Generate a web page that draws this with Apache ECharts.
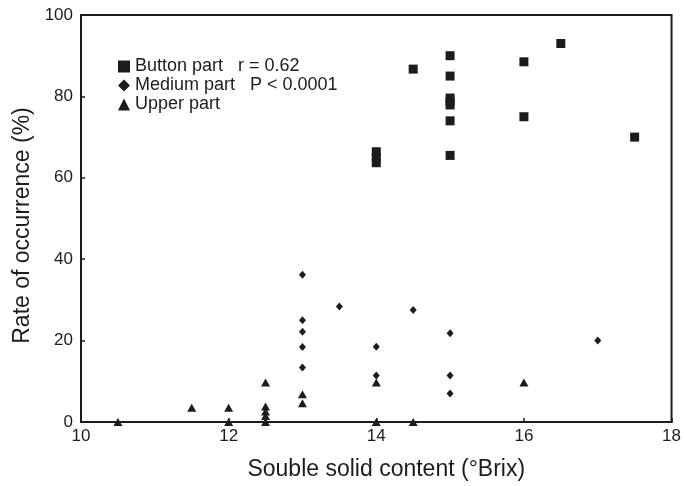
<!DOCTYPE html>
<html>
<head>
<meta charset="utf-8">
<script src="https://cdn.jsdelivr.net/npm/echarts@6/dist/echarts.min.js"></script>
<style>
  html, body { margin: 0; padding: 0; background: #fff; }
  #main { width: 684px; height: 486px; }
</style>
</head>
<body>
<div id="main"></div>
<script>
// bottom part (squares)
var buttonX = [14, 14, 14, 14.5, 15, 15, 15, 15, 15, 15, 15, 16, 16, 16.5, 17.5];
var buttonY = [66.4, 65, 63.7, 86.7, 90, 85, 79.6, 78.7, 77.9, 74, 65.5, 88.5, 75, 93, 70];
// medium part (diamonds)
var mediumX = [13, 13, 13, 13, 13, 13.5, 14, 14, 14.5, 15, 15, 15, 17];
var mediumY = [36.2, 25, 22.2, 18.4, 13.4, 28.4, 18.5, 11.4, 27.5, 21.8, 11.4, 7, 20];
// upper part (triangles)
var upperX = [10.5, 11.5, 12, 12, 12.5, 12.5, 12.5, 12.5, 12.5, 13, 13, 14, 14, 14.5, 16];
var upperY = [0, 3.5, 3.5, 0, 9.7, 3.8, 2.6, 1.5, 0, 6.8, 4.6, 9.7, 0, 0, 9.7];

var seriesNames = ['Button part', 'Medium part', 'Upper part'];
var legendExtra = {'Button part': '   r = 0.62', 'Medium part': '   P < 0.0001', 'Upper part': ''};

function pairs(xs, ys){
  var out = [];
  for (var i = 0; i < xs.length; i++) out.push([xs[i], ys[i]]);
  return out;
}

var font = "'Liberation Sans', Arial, sans-serif";
var ink = '#1c1c1c';

var chart = echarts.init(document.getElementById('main'));
chart.setOption({
  animation: false,
  grid: {
    left: 81, right: 9, top: 15, bottom: 57,
    show: true,
    borderColor: ink,
    borderWidth: 2
  },
  legend: {
    orient: 'vertical',
    left: 118,
    top: 57,
    padding: 0,
    itemWidth: 12,
    itemHeight: 12,
    itemGap: 0,
    data: seriesNames,
    formatter: function(name){ return name + legendExtra[name]; },
    textStyle: { color: ink, fontFamily: font, fontSize: 18, lineHeight: 19 }
  },
  xAxis: {
    type: 'value',
    min: 10, max: 18, interval: 2,
    name: 'Souble solid content (°Brix)',
    nameLocation: 'middle',
    nameGap: 36,
    nameTextStyle: { color: ink, fontFamily: font, fontSize: 23, padding: [0, 0, 0, 20] },
    axisLine: { show: true, lineStyle: { color: ink, width: 2 } },
    axisTick: { show: true, inside: true, length: 4, lineStyle: { color: ink, width: 1.5 } },
    axisLabel: { color: ink, fontFamily: font, fontSize: 17, margin: 6 },
    splitLine: { show: false }
  },
  yAxis: {
    type: 'value',
    min: 0, max: 100, interval: 20,
    name: 'Rate of occurrence (%)',
    nameLocation: 'middle',
    nameGap: 45,
    nameTextStyle: { color: ink, fontFamily: font, fontSize: 23, padding: [0, 14, 0, 0] },
    axisLine: { show: true, lineStyle: { color: ink, width: 2 } },
    axisTick: { show: true, inside: true, length: 4, lineStyle: { color: ink, width: 1.5 } },
    axisLabel: { color: ink, fontFamily: font, fontSize: 17, margin: 8 },
    splitLine: { show: false }
  },
  series: [
    {
      name: seriesNames[0],
      type: 'scatter',
      symbol: 'rect',
      symbolSize: 9,
      clip: false,
      itemStyle: { color: ink, opacity: 1 },
      data: pairs(buttonX, buttonY)
    },
    {
      name: seriesNames[1],
      type: 'scatter',
      symbol: 'diamond',
      symbolSize: [7, 8],
      clip: false,
      itemStyle: { color: ink, opacity: 1 },
      data: pairs(mediumX, mediumY)
    },
    {
      name: seriesNames[2],
      type: 'scatter',
      symbol: 'triangle',
      symbolSize: [9, 8],
      clip: false,
      itemStyle: { color: ink, opacity: 1 },
      data: pairs(upperX, upperY)
    }
  ]
});
</script>
</body>
</html>
